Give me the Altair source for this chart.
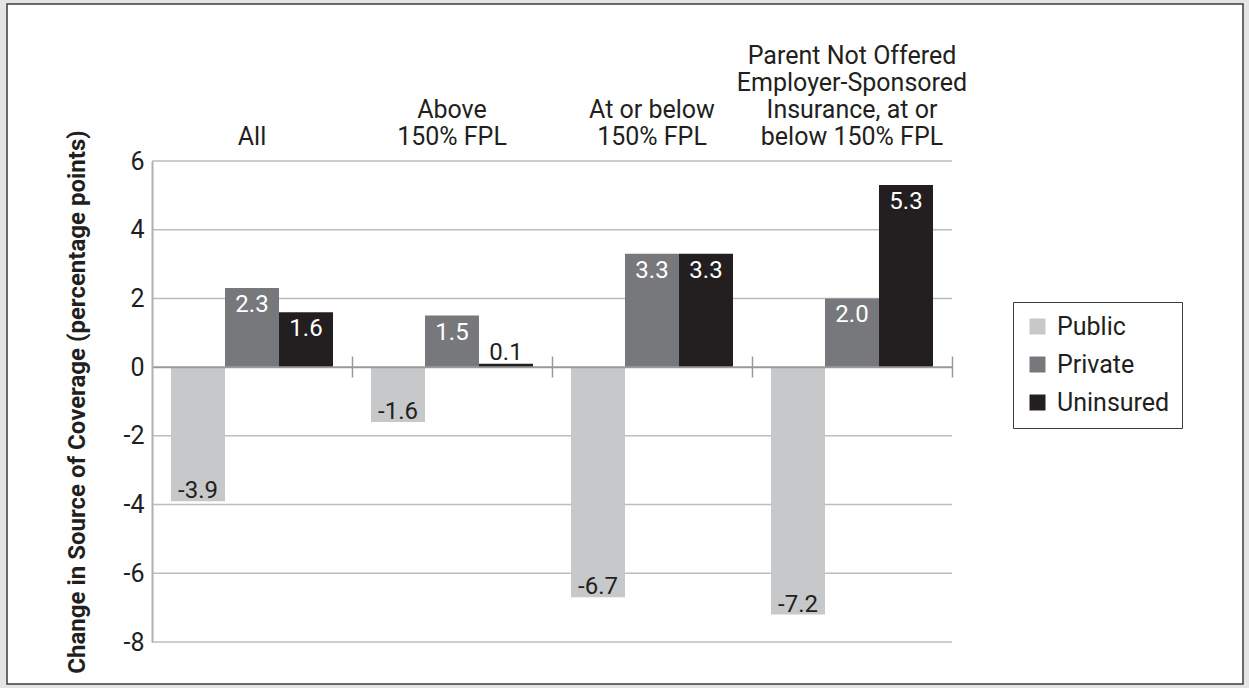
import altair as alt
import pandas as pd

# Category labels, one entry per text line
group_lines = [
    ["All"],
    ["Above", "150% FPL"],
    ["At or below", "150% FPL"],
    ["Parent Not Offered", "Employer-Sponsored", "Insurance, at or", "below 150% FPL"],
]
series_names = ["Public", "Private", "Uninsured"]
public_vals = [-3.9, -1.6, -6.7, -7.2]
private_vals = [2.3, 1.5, 3.3, 2.0]
uninsured_vals = [1.6, 0.1, 3.3, 5.3]
series_colors = ["#c7c8ca", "#77787b", "#231f20"]
y_ticks = [-8, -6, -4, -2, 0, 2, 4, 6]

TEXT = "#231f20"
FONT = "Roboto"
LINE_H = 27
PLOT_W = 800

group_keys = [" ".join(lines) for lines in group_lines]

rows = []
for gi, key in enumerate(group_keys):
    for name, vals in zip(series_names, [public_vals, private_vals, uninsured_vals]):
        v = vals[gi]
        if v < 0:
            place = "below"
        elif v < 0.5:
            place = "above"
        else:
            place = "inside"
        rows.append({"group": key, "series": name, "value": v,
                     "label": f"{v:.1f}", "place": place})
bars_df = pd.DataFrame(rows)

# One row per text line of each category heading, counted from the bottom line
heading_rows = []
for key, lines in zip(group_keys, group_lines):
    for i, line in enumerate(lines):
        heading_rows.append({"group": key, "line": line, "from_bottom": len(lines) - 1 - i})
heading_df = pd.DataFrame(heading_rows)

y_scale = alt.Scale(domain=[-8, 6], nice=False, zero=False)
x_scale = alt.Scale(domain=group_keys, paddingInner=0.19, paddingOuter=0.095)
off_scale = alt.Scale(domain=series_names, paddingInner=0, paddingOuter=0)

base = alt.Chart(bars_df)

# White panel with a thin dark border around the figure
frame = alt.Chart(pd.DataFrame({"k": [0]})).mark_rect(
    fill="white", stroke="#3c3c3c", strokeWidth=1.5
).encode(x=alt.value(-145), x2=alt.value(1091), y=alt.value(-157), y2=alt.value(523))

grid = alt.Chart(pd.DataFrame({"tick": [t for t in y_ticks if t != 0]})).mark_rule(
    color="#bdbdbd", strokeWidth=1.5
).encode(y=alt.Y("tick:Q", scale=y_scale, axis=None))

bars = base.mark_bar().encode(
    x=alt.X("group:N", scale=x_scale, sort=group_keys, axis=None),
    xOffset=alt.XOffset("series:N", scale=off_scale, sort=series_names),
    y=alt.Y("value:Q", scale=y_scale,
            axis=alt.Axis(values=y_ticks, grid=False, ticks=False, tickSize=0,
                          domainColor="#b0b0b0", domainWidth=2,
                          labelFontSize=25, labelPadding=8, labelColor=TEXT,
                          labelExpr="'' + datum.value",
                          title="Change in Source of Coverage (percentage points)",
                          titleFontSize=24, titleFontWeight="bold", titleColor=TEXT,
                          titlePadding=34, zindex=1)),
    color=alt.Color("series:N", scale=alt.Scale(domain=series_names, range=series_colors),
                    legend=alt.Legend(title=None, orient="none", legendX=861, legendY=141,
                                      symbolType="square", symbolSize=256,
                                      symbolStrokeWidth=0, symbolOpacity=1,
                                      labelFontSize=25, labelColor=TEXT, labelOffset=7,
                                      rowPadding=12, padding=12,
                                      strokeColor="#3c3c3c", fillColor="white", zindex=1)),
)

zero_line = alt.Chart(pd.DataFrame({"k": [0]})).mark_rule(
    color="#9a9a9a", strokeWidth=2
).encode(y=alt.datum(0))


def label_layer(place, baseline, dy, color, axis=None):
    return base.transform_filter(alt.datum.place == place).mark_text(
        baseline=baseline, dy=dy, fontSize=24, color=color
    ).encode(
        x=alt.X("group:N", scale=x_scale, sort=group_keys, axis=axis),
        xOffset=alt.XOffset("series:N", scale=off_scale, sort=series_names),
        y=alt.Y("value:Q", scale=y_scale, axis=None),
        text="label:N",
    )


# Category separators across the zero line, half a step right of each band centre
sep_axis = alt.Axis(orient="bottom", offset=-286, domain=False, labels=False,
                    ticks=True, tickOffset=PLOT_W / len(group_keys) / 2,
                    tickSize=21, tickColor="#9a9a9a",
                    tickWidth=1.5, title=None, grid=False, zindex=1)

labels_in = label_layer("inside", "top", 5, "white", sep_axis)
labels_below = label_layer("below", "alphabetic", -3, TEXT)
labels_above = label_layer("above", "alphabetic", -4, TEXT)

# Category headings above the plot, stacked upward from a shared bottom line
max_lines = max(len(lines) for lines in group_lines)
headings = [
    alt.Chart(heading_df).transform_filter(alt.datum.from_bottom == k).mark_text(
        baseline="alphabetic", fontSize=25, color=TEXT, dy=-LINE_H * k
    ).encode(
        x=alt.X("group:N", scale=x_scale, sort=group_keys, axis=None),
        y=alt.value(-16),
        text="line:N",
    )
    for k in range(max_lines)
]

chart = alt.layer(
    frame, grid, bars, zero_line, labels_in, labels_below, labels_above, *headings
).resolve_axis(x="independent", y="independent").properties(
    width=PLOT_W, height=481,
    autosize=alt.AutoSizeParams(type="none"),
    padding={"left": 152, "top": 161, "right": 297, "bottom": 46},
    background="#e4e4e4",
).configure(font=FONT).configure_view(stroke=None)

chart.save("out.html", embed_options={"renderer": "svg", "actions": False})
